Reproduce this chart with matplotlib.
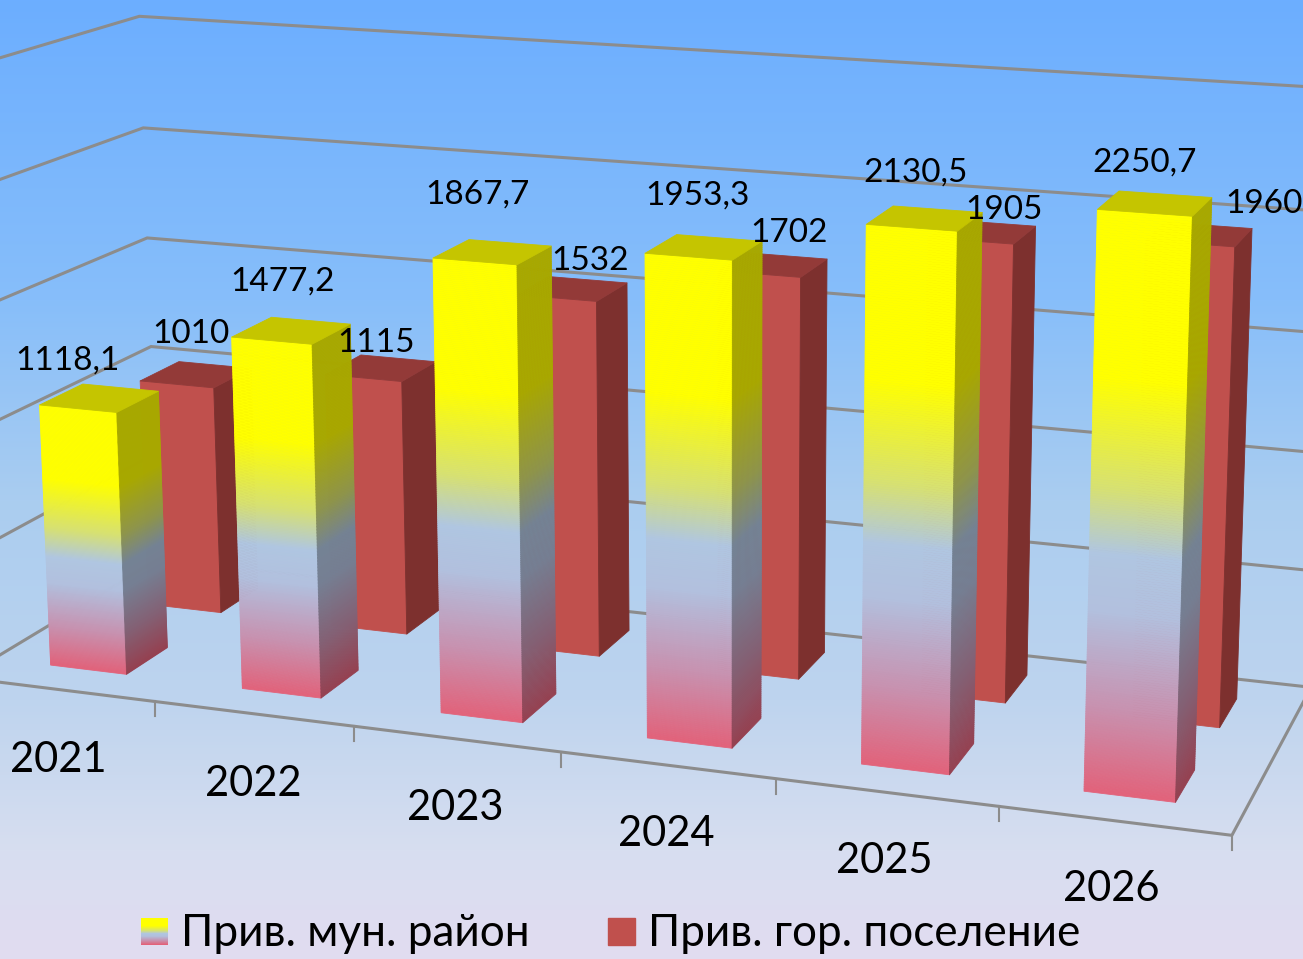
import numpy as np
import matplotlib
matplotlib.use("Agg")
import matplotlib.pyplot as plt
from matplotlib.collections import PolyCollection

plt.rcParams['font.family'] = ['Lato', 'Open Sans', 'DejaVu Sans']

years = ['2021', '2022', '2023', '2024', '2025', '2026']
rayon = [1118.1, 1477.2, 1867.7, 1953.3, 2130.5, 2250.7]
poselenie = [1010, 1115, 1532, 1702, 1905, 1960]
rayon_labels = ['1118,1', '1477,2', '1867,7', '1953,3', '2130,5', '2250,7']
poselenie_labels = ['1010', '1115', '1532', '1702', '1905', '1960']
grid_values = [0, 500, 1000, 1500, 2000, 2500]

W, H = 1303, 959

# camera of the fake 3D chart: (category, depth, value / 2500, 1) -> pixel
P = np.array([[1.89427033e+02, 2.13391164e+02, -2.63912054e+01, -3.76110603e+01],
              [1.12683835e+01, -5.72633193e+01, -6.02810031e+02, 6.77563817e+02],
              [-1.79871130e-02, 1.08802763e-01, -3.65161786e-02, 1.00000000e+00]])


def project(x, y, z):
    p = P @ np.array([x, y, z / 2500, 1.0])
    return p[0] / p[2], p[1] / p[2]


# gradient stops of the first series, from bar top to bar bottom
stops = [0, .28, .47, .58, .68, .85, 1]
stop_colors = np.array([(255, 255, 0), (255, 255, 0), (215, 225, 115), (176, 198, 225),
                        (178, 192, 222), (200, 145, 175), (226, 98, 122)]) / 255


def grad_color(t):
    return [np.interp(t, stops, stop_colors[:, i]) for i in range(3)]


def draw_bar(ax, x0, x1, y0, y1, value, front, side, top, zorder):
    strips, colors = [], []
    n = 240 if front is None else 1
    for i in range(n):
        a, b = value * (1 - i / n), value * (1 - (i + 1) / n)
        t = (i + .5) / n
        strips.append([project(x0, y0, a), project(x1, y0, a), project(x1, y0, b), project(x0, y0, b)])
        colors.append(grad_color(t) if front is None else front)
        strips.append([project(x1, y0, a), project(x1, y1, a), project(x1, y1, b), project(x1, y0, b)])
        colors.append([c * .66 for c in grad_color(t)] if front is None else side)
    strips.append([project(x0, y0, value), project(x1, y0, value), project(x1, y1, value), project(x0, y1, value)])
    colors.append(top)
    ax.add_collection(PolyCollection(strips, facecolors=colors, edgecolors=colors, linewidths=.6, zorder=zorder))


fig = plt.figure(figsize=(W / 100, H / 100), dpi=100)
ax = fig.add_axes([0, 0, 1, 1])

# background gradient
bg_y = np.array([0, 300, 500, 700, 850, 959])
bg_c = np.array([(108, 174, 255), (135, 190, 250), (170, 205, 240), (190, 212, 238),
                 (215, 222, 240), (226, 220, 240)]) / 255
yy = np.arange(H)
bg = np.stack([np.interp(yy, bg_y, bg_c[:, i]) for i in range(3)], axis=1)[:, None, :]
ax.imshow(bg, extent=[0, W, H, 0], aspect='auto', zorder=0)

grid_color = '#8c8c8c'
for g in grid_values:
    pts = [project(0, 0, g), project(0, 1, g), project(6, 1, g)]
    ax.plot(*zip(*pts), color=grid_color, lw=2.2, zorder=1, solid_joinstyle='miter')
ax.plot(*zip(project(0, 0, 0), project(6, 0, 0), project(6, 1, 0)), color=grid_color, lw=2.2, zorder=1)
for i in range(1, 7):
    u, v = project(i, 0, 0)
    ax.plot([u, u], [v, v + 15], color=grid_color, lw=1.5, zorder=1)

# bars, back row first in each year
for i in range(len(years)):
    draw_bar(ax, i + .3, i + .7, .65, .86, poselenie[i], '#c0504d', '#7d302e', '#933a38', 3 + 2 * i)
    draw_bar(ax, i + .3, i + .7, .15, .36, rayon[i], None, None, '#c5c500', 4 + 2 * i)

rayon_xy = [(67, 361), (283, 282), (478, 195), (698, 196), (916, 173), (1145, 163)]
pos_xy = [(191, 334), (376, 343), (590, 261), (789, 233), (1004, 210), (1264, 204)]
year_xy = [(58, 760), (253, 784), (455, 808), (666, 834), (884, 861), (1111, 889)]
for lab, (u, v) in zip(rayon_labels, rayon_xy):
    ax.text(u, v, lab, ha='center', va='center', fontsize=24, color='black', zorder=30)
for lab, (u, v) in zip(poselenie_labels, pos_xy):
    ax.text(u, v, lab, ha='center', va='center', fontsize=24, color='black', zorder=30)
for lab, (u, v) in zip(years, year_xy):
    ax.text(u, v, lab, ha='center', va='center', fontsize=30, color='black', zorder=30)

# legend
swatch = np.array([grad_color(t) for t in np.linspace(0, 1, 27)])[:, None, :]
ax.imshow(swatch, extent=[141, 168, 945, 918], aspect='auto', zorder=30)
ax.fill([608, 635, 635, 608], [918, 918, 945, 945], color='#c0504d', zorder=30)
ax.text(181, 946, 'Прив. мун. район', ha='left', va='baseline', fontsize=31.8, color='black', zorder=30)
ax.text(648, 946, 'Прив. гор. поселение', ha='left', va='baseline', fontsize=31.7, color='black', zorder=30)

ax.set_xlim(0, W)
ax.set_ylim(H, 0)
ax.axis('off')
fig.savefig('out.png', dpi=100)
